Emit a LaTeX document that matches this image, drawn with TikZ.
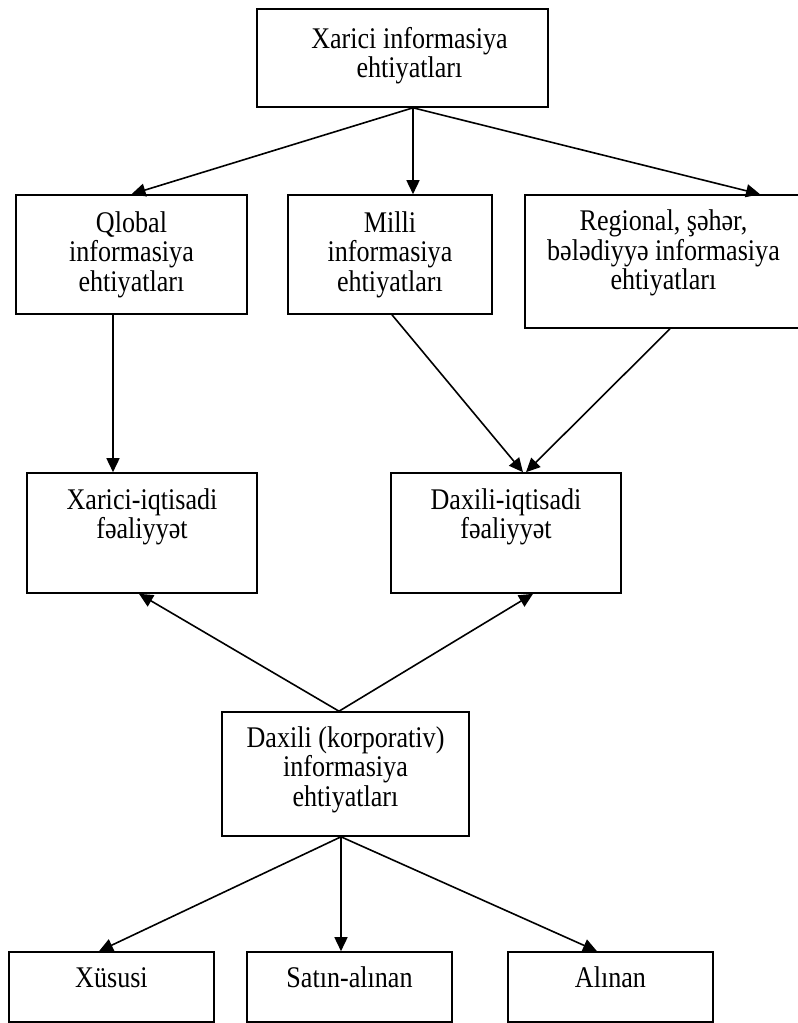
\documentclass[tikz,border=0pt]{standalone}
\usepackage{fontspec}
\setmainfont{Liberation Serif}
\usepackage{tikz}
\usetikzlibrary{arrows.meta, positioning}

\begin{document}
\begin{tikzpicture}[x=1pt, y=-1pt,
    box/.style={draw, line width=1.6pt, inner sep=0pt},
    txt/.style={align=center, inner sep=0pt, xscale=0.87, transform shape,
        font=\fontsize{30}{29.5}\selectfont},
    arr/.style={line width=1.6pt, -{Triangle[length=14pt, width=13pt]}}]
    \useasboundingbox (0,0) rectangle (798,1023);

    \node[box, minimum width=291, minimum height=98] (xi) at (402.5, 58) {};
    \node[box, minimum width=231, minimum height=119] (ql) at (131.5, 254.5) {};
    \node[box, minimum width=204, minimum height=119] (mi) at (390, 254.5) {};
    \node[box, minimum width=277, minimum height=133] (re) at (663.5, 261.5) {};
    \node[box, minimum width=230, minimum height=120] (xf) at (142, 533) {};
    \node[box, minimum width=230, minimum height=120] (df) at (506, 533) {};
    \node[box, minimum width=247, minimum height=124] (dk) at (345.5, 774) {};
    \node[box, minimum width=205, minimum height=70] (xu) at (111.5, 987) {};
    \node[box, minimum width=205, minimum height=70] (sa) at (349.5, 987) {};
    \node[box, minimum width=205, minimum height=70] (al) at (610.5, 987) {};

    \node[txt, below=18.5pt of xi.north, xshift=8pt] (xi-t) {Xarici informasiya\\ehtiyatları};
    \node[txt, below=17pt of ql.north] (ql-t) {Qlobal\\informasiya\\ehtiyatları};
    \node[txt, below=17pt of mi.north] (mi-t) {Milli\\informasiya\\ehtiyatları};
    \node[txt, below=15.5pt of re.north] (re-t) {Regional, şəhər,\\bələdiyyə informasiya\\ehtiyatları};
    \node[txt, below=16pt of xf.north] (xf-t) {Xarici-iqtisadi\\fəaliyyət};
    \node[txt, below=16pt of df.north] (df-t) {Daxili-iqtisadi\\fəaliyyət};
    \node[txt, below=15pt of dk.north] (dk-t) {Daxili (korporativ)\\informasiya\\ehtiyatları};
    \node[txt, below=16pt of xu.north] (xu-t) {Xüsusi};
    \node[txt, below=15pt of sa.north] (sa-t) {Satın-alınan};
    \node[txt, below=15pt of al.north] (al-t) {Alınan};

    \draw[arr] ([xshift=10.5]xi.south) -- (ql.north);
    \draw[arr] ([xshift=10.5]xi.south) -- ([xshift=23]mi.north);
    \draw[arr] ([xshift=10.5]xi.south) -- ([xshift=96.5]re.north);
    \draw[arr] ([xshift=-18.5]ql.south) -- ([xshift=-29]xf.north);
    \draw[arr] ([xshift=2]mi.south) -- ([xshift=17]df.north);
    \draw[arr] ([xshift=6.5]re.south) -- ([xshift=20]df.north);
    \draw[arr] ([xshift=-6.5]dk.north) -- ([xshift=-3]xf.south);
    \draw[arr] ([xshift=-6.5]dk.north) -- ([xshift=27]df.south);
    \draw[arr] ([xshift=-4.5]dk.south) -- ([xshift=-12.5]xu.north);
    \draw[arr] ([xshift=-4.5]dk.south) -- ([xshift=-8.5]sa.north);
    \draw[arr] ([xshift=-4.5]dk.south) -- ([xshift=-13.5]al.north);
\end{tikzpicture}
\end{document}
